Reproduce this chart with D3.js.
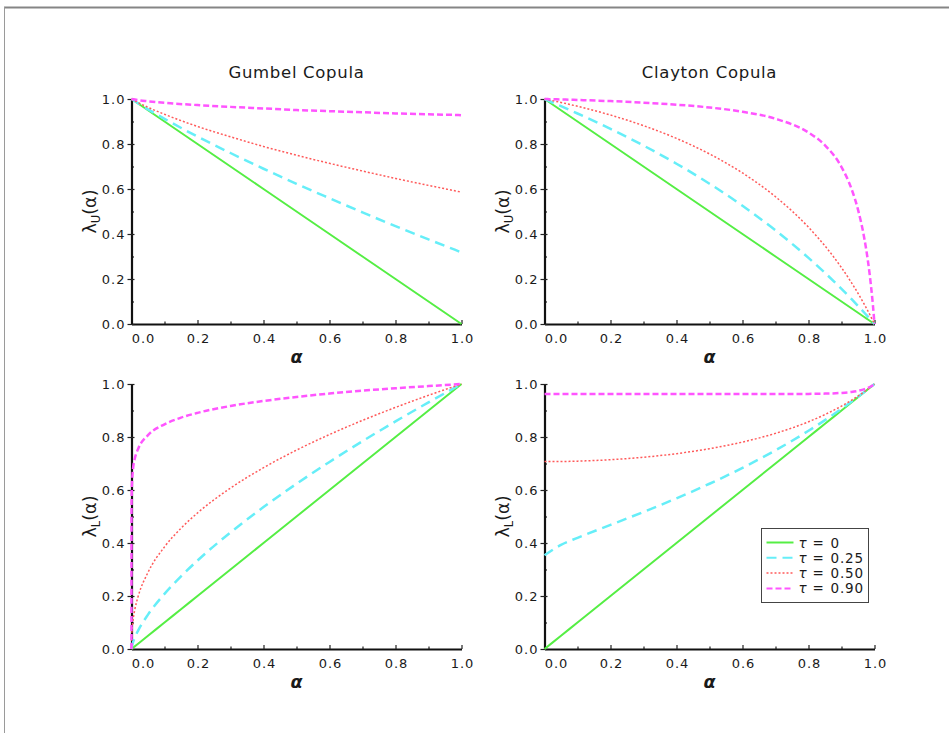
<!DOCTYPE html>
<html>
<head>
<meta charset="utf-8">
<script src="https://cdn.jsdelivr.net/npm/d3@7"></script>
<style>
  body { margin: 0; background: #fff; }
  svg { display: block; }
  text { font-family: "DejaVu Sans", sans-serif; fill: #1a1a1a; }
</style>
</head>
<body>
<script>
// ---- Kendall's tau levels shown in every panel ----
const tauLabels = ["0", "0.25", "0.50", "0.90"];

// ---- Gumbel copula, upper tail function lambda_U(alpha) ----
const gumbelUpperAlpha = [0, 0.02, 0.05, 0.1, 0.2, 0.3, 0.4, 0.5, 0.6, 0.7, 0.8, 0.9, 0.95, 0.99, 1];
const gumbelUpperTau0  = [1, 0.98, 0.95, 0.9, 0.8, 0.7, 0.6, 0.5, 0.4, 0.3, 0.2, 0.1, 0.05, 0.01, 0];
const gumbelUpperTau25 = [1, 0.981, 0.954, 0.912, 0.833, 0.760, 0.690, 0.623, 0.559, 0.496, 0.435, 0.376, 0.347, 0.324, 0.318];
const gumbelUpperTau50 = [1, 0.984, 0.963, 0.932, 0.878, 0.832, 0.789, 0.750, 0.714, 0.680, 0.647, 0.616, 0.601, 0.589, 0.586];
const gumbelUpperTau90 = [1, 0.995, 0.990, 0.983, 0.973, 0.965, 0.958, 0.951, 0.946, 0.941, 0.936, 0.932, 0.930, 0.929, 0.928];

// ---- Gumbel copula, lower tail function lambda_L(alpha) ----
const gumbelLowerAlpha = [0, 0.000001, 0.0001, 0.001, 0.005, 0.01, 0.02, 0.05, 0.1, 0.15, 0.2, 0.3, 0.4, 0.5, 0.6, 0.7, 0.8, 0.9, 1];
const gumbelLowerTau0  = [0, 0.000001, 0.0001, 0.001, 0.005, 0.01, 0.02, 0.05, 0.1, 0.15, 0.2, 0.3, 0.4, 0.5, 0.6, 0.7, 0.8, 0.9, 1];
const gumbelLowerTau25 = [0, 0.0001, 0.0019, 0.0090, 0.0270, 0.0433, 0.0695, 0.1297, 0.2081, 0.2743, 0.3338, 0.4400, 0.5354, 0.6234, 0.7059, 0.7842, 0.8589, 0.9307, 1];
const gumbelLowerTau50 = [0, 0.0033, 0.0220, 0.0572, 0.1114, 0.1485, 0.1979, 0.2891, 0.3853, 0.4557, 0.5134, 0.6073, 0.6842, 0.7505, 0.8093, 0.8627, 0.9117, 0.9573, 1];
const gumbelLowerTau90 = [0, 0.371, 0.516, 0.609, 0.684, 0.719, 0.755, 0.807, 0.848, 0.873, 0.891, 0.917, 0.936, 0.951, 0.964, 0.975, 0.984, 0.992, 1];

// ---- Clayton copula, upper tail function lambda_U(alpha) ----
const claytonUpperAlpha = [0, 0.01, 0.05, 0.1, 0.2, 0.3, 0.4, 0.5, 0.6, 0.7, 0.8, 0.85, 0.9, 0.93, 0.95, 0.97, 0.98, 0.99, 0.995, 1];
const claytonUpperTau0  = [1, 0.99, 0.95, 0.9, 0.8, 0.7, 0.6, 0.5, 0.4, 0.3, 0.2, 0.15, 0.1, 0.07, 0.05, 0.03, 0.02, 0.01, 0.005, 0];
const claytonUpperTau25 = [1, 0.9936, 0.9681, 0.9355, 0.8671, 0.7931, 0.7124, 0.6236, 0.5254, 0.4163, 0.2939, 0.2272, 0.1562, 0.1114, 0.0806, 0.049, 0.0329, 0.0166, 0.0083, 0];
const claytonUpperTau50 = [1, 0.9970, 0.9846, 0.9677, 0.9286, 0.8815, 0.8248, 0.7559, 0.6713, 0.5655, 0.4300, 0.3469, 0.2503, 0.1843, 0.1364, 0.0849, 0.0577, 0.0294, 0.0149, 0];
const claytonUpperTau90 = [1, 0.9996, 0.9980, 0.9958, 0.9906, 0.9838, 0.9748, 0.9622, 0.9434, 0.9120, 0.8508, 0.7942, 0.6976, 0.6019, 0.5085, 0.3737, 0.281, 0.161, 0.087, 0];

// ---- Clayton copula, lower tail function lambda_L(alpha) ----
const claytonLowerAlpha = [0, 0.05, 0.1, 0.2, 0.3, 0.4, 0.5, 0.6, 0.7, 0.8, 0.85, 0.9, 0.93, 0.95, 0.97, 0.98, 0.99, 1];
const claytonLowerTau0  = [0, 0.05, 0.1, 0.2, 0.3, 0.4, 0.5, 0.6, 0.7, 0.8, 0.85, 0.9, 0.93, 0.95, 0.97, 0.98, 0.99, 1];
const claytonLowerTau25 = [0.3536, 0.3929, 0.4195, 0.4684, 0.5173, 0.5686, 0.6236, 0.6836, 0.7498, 0.8235, 0.8636, 0.9062, 0.9331, 0.9516, 0.9706, 0.9803, 0.9901, 1];
const claytonLowerTau50 = [0.7071, 0.7075, 0.7089, 0.7143, 0.7236, 0.7372, 0.7559, 0.7809, 0.8138, 0.8575, 0.8847, 0.9167, 0.9386, 0.9545, 0.9717, 0.9808, 0.9902, 1];
const claytonLowerTau90 = [0.9622, 0.9622, 0.9622, 0.9622, 0.9622, 0.9622, 0.9622, 0.9622, 0.9623, 0.9627, 0.9637, 0.9664, 0.9700, 0.9741, 0.9806, 0.9853, 0.9915, 1];

// ---- axis ticks ----
const majorTicks = [0, 0.2, 0.4, 0.6, 0.8, 1.0];
const minorTicks = [0.1, 0.3, 0.5, 0.7, 0.9];

// ---- line styles, one per tau level ----
const seriesStyles = [
  { color: "#55ee44", width: 2,   dash: null },
  { color: "#66eef8", width: 2.5, dash: "10,6" },
  { color: "#ff5a5a", width: 1.5, dash: "2,2" },
  { color: "#ff55ff", width: 2.5, dash: "6,3" }
];

const W = 949, H = 733;
const svg = d3.select("body").append("svg").attr("width", W).attr("height", H);

// page frame (top and left edges)
svg.append("line").attr("x1", 4).attr("x2", W).attr("y1", 7.5).attr("y2", 7.5)
  .attr("stroke", "#858585").attr("stroke-width", 2);
svg.append("line").attr("x1", 4.5).attr("x2", 4.5).attr("y1", 7).attr("y2", H)
  .attr("stroke", "#9a9a9a").attr("stroke-width", 1);

const fmt = d3.format(".1f");

function drawPanel(p) {
  const g = svg.append("g");
  const x = d3.scaleLinear().domain([0, 1]).range([p.left, p.left + 330]);
  const y = d3.scaleLinear().domain([0, 1]).range([p.bottom, p.top]);

  // minor x ticks
  g.append("g").attr("transform", `translate(0,${p.bottom})`)
    .call(d3.axisBottom(x).tickValues(minorTicks).tickSizeInner(-2.5).tickSizeOuter(0).tickFormat(""))
    .call(a => a.select(".domain").remove())
    .call(a => a.selectAll("line").attr("stroke", "#222").attr("stroke-width", 1.2));
  // major x ticks + labels
  const xa = g.append("g").attr("transform", `translate(0,${p.bottom})`)
    .call(d3.axisBottom(x).tickValues(majorTicks).tickSizeInner(-4).tickSizeOuter(0).tickPadding(10).tickFormat(fmt));
  xa.select(".domain").attr("stroke", "#111").attr("stroke-width", 2.2);
  xa.selectAll("line").attr("stroke", "#222").attr("stroke-width", 1.2);
  xa.selectAll("text").attr("font-family", "DejaVu Sans").attr("font-size", 13)
    .attr("letter-spacing", 1).attr("fill", "#1a1a1a")
    .attr("dx", d => d === 0 ? 11.5 : 0.5);

  // minor y ticks
  g.append("g").attr("transform", `translate(${p.left},0)`)
    .call(d3.axisLeft(y).tickValues(minorTicks).tickSizeInner(-2.5).tickSizeOuter(0).tickFormat(""))
    .call(a => a.select(".domain").remove())
    .call(a => a.selectAll("line").attr("stroke", "#222").attr("stroke-width", 1.2));
  // major y ticks + labels
  const ya = g.append("g").attr("transform", `translate(${p.left},0)`)
    .call(d3.axisLeft(y).tickValues(majorTicks).tickSizeInner(4).tickSizeOuter(0).tickPadding(2).tickFormat(fmt));
  ya.select(".domain").attr("stroke", "#111").attr("stroke-width", 2.2);
  ya.selectAll("line").attr("x1", 3).attr("stroke", "#222").attr("stroke-width", 1.2);
  ya.selectAll("text").attr("font-family", "DejaVu Sans").attr("font-size", 13)
    .attr("letter-spacing", 1).attr("fill", "#1a1a1a");

  // curves
  const line = d3.line().x(d => x(d[0])).y(d => y(d[1])).curve(d3.curveMonotoneX);
  p.series.forEach((vals, i) => {
    const s = seriesStyles[i];
    g.append("path")
      .datum(p.alpha.map((a, j) => [a, vals[j]]))
      .attr("d", line)
      .attr("fill", "none")
      .attr("stroke", s.color)
      .attr("stroke-width", s.width)
      .attr("stroke-dasharray", s.dash);
  });

  // title
  if (p.title) {
    g.append("text").attr("x", x(0.5)).attr("y", 78).attr("text-anchor", "middle")
      .attr("font-size", 16.5).attr("letter-spacing", 0.7).text(p.title);
  }

  // y axis label: lambda with subscript
  const cy = (p.top + p.bottom) / 2;
  const yl = g.append("text")
    .attr("transform", `translate(${p.left - 36},${cy}) rotate(-90)`)
    .attr("text-anchor", "middle").attr("font-size", 17.5);
  yl.append("tspan").text("λ");
  yl.append("tspan").attr("font-size", 11.5).attr("dy", 4).text(p.sub);
  yl.append("tspan").attr("dy", -4).text("(α)");

  // x axis label
  g.append("text").attr("x", x(0.5)).attr("y", p.bottom + 39).attr("text-anchor", "middle")
    .attr("font-size", 17.5).attr("font-weight", "bold").attr("font-style", "italic").text("α");
}

const leftX = 131.5, rightX = 544.5;
const upperTop = 99, upperBottom = 324, lowerTop = 384, lowerBottom = 649;

drawPanel({ left: leftX, top: upperTop, bottom: upperBottom, title: "Gumbel Copula", sub: "U",
  alpha: gumbelUpperAlpha, series: [gumbelUpperTau0, gumbelUpperTau25, gumbelUpperTau50, gumbelUpperTau90] });
drawPanel({ left: rightX, top: upperTop, bottom: upperBottom, title: "Clayton Copula", sub: "U",
  alpha: claytonUpperAlpha, series: [claytonUpperTau0, claytonUpperTau25, claytonUpperTau50, claytonUpperTau90] });
drawPanel({ left: leftX, top: lowerTop, bottom: lowerBottom, title: null, sub: "L",
  alpha: gumbelLowerAlpha, series: [gumbelLowerTau0, gumbelLowerTau25, gumbelLowerTau50, gumbelLowerTau90] });
drawPanel({ left: rightX, top: lowerTop, bottom: lowerBottom, title: null, sub: "L",
  alpha: claytonLowerAlpha, series: [claytonLowerTau0, claytonLowerTau25, claytonLowerTau50, claytonLowerTau90] });

// legend
const lg = svg.append("g").attr("transform", "translate(761.5,528.5)");
lg.append("rect").attr("width", 107).attr("height", 74)
  .attr("fill", "#fff").attr("stroke", "#444").attr("stroke-width", 1);
tauLabels.forEach((t, i) => {
  const s = seriesStyles[i];
  const ry = 14 + i * 15.3;
  lg.append("line").attr("x1", 5).attr("x2", 32).attr("y1", ry).attr("y2", ry)
    .attr("stroke", s.color).attr("stroke-width", Math.min(s.width, 2))
    .attr("stroke-dasharray", s.dash);
  const tx = lg.append("text").attr("x", 37).attr("y", ry + 5).attr("font-size", 13.5)
    .attr("letter-spacing", 0.8);
  tx.append("tspan").attr("font-style", "italic").text("τ");
  tx.append("tspan").attr("dx", 5).text("=");
  tx.append("tspan").attr("dx", 6).text(t);
});
</script>
</body>
</html>
